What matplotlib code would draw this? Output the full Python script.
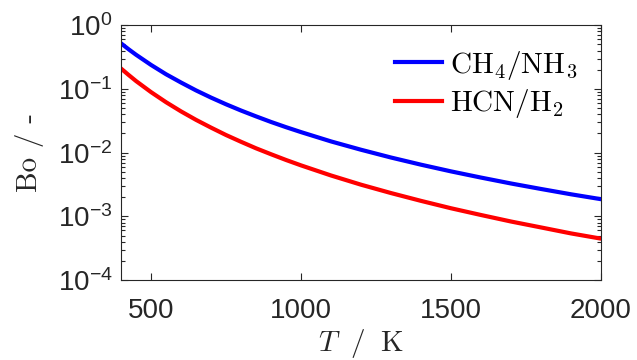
import numpy as np
import matplotlib
matplotlib.use("Agg")
import matplotlib.pyplot as plt
from matplotlib.ticker import LogLocator, FixedLocator, FixedFormatter, NullFormatter

plt.rcParams['mathtext.fontset'] = 'custom'
plt.rcParams['mathtext.rm'] = 'cmr10'
plt.rcParams['mathtext.it'] = 'cmmi10'
plt.rcParams['mathtext.sf'] = 'Liberation Sans'
plt.rcParams['mathtext.fallback'] = 'cm'
plt.rcParams['axes.unicode_minus'] = True

# temperature / K
T = [400, 425, 450, 500, 550, 600, 650, 700, 750, 800, 850, 900, 950,
     1000, 1100, 1200, 1300, 1400, 1500, 1600, 1700, 1800, 1900, 2000]
# Bond number, CH4/NH3
bo_ch4 = [0.519, 0.420, 0.344, 0.238, 0.170, 0.126, 0.0948, 0.0731, 0.0574,
          0.0458, 0.0371, 0.0303, 0.0251, 0.0210, 0.0150, 0.0111, 0.00838,
          0.00647, 0.00508, 0.00406, 0.00328, 0.00269, 0.00222, 0.00186]
# Bond number, HCN/H2
bo_hcn = [0.209, 0.166, 0.133, 0.0891, 0.0619, 0.0444, 0.0327, 0.0247, 0.0189,
          0.0148, 0.0117, 0.00944, 0.00767, 0.00631, 0.00438, 0.00314,
          0.00232, 0.00175, 0.00134, 0.00105, 0.00083, 0.00067, 0.00054,
          0.000447]

ytick_vals = [1e-4, 1e-3, 1e-2, 1e-1, 1e0]
ytick_lbls = [r'$\mathsf{10^{-4}}$', r'$\mathsf{10^{-3}}$', r'$\mathsf{10^{-2}}$',
              r'$\mathsf{10^{-1}}$', r'$\mathsf{10^{0}}$']
xtick_vals = [500, 1000, 1500, 2000]

fig = plt.figure(figsize=(6.37, 3.6), dpi=100)
ax = fig.add_axes([0.190, 0.222, 0.7535, 0.708])

ax.plot(T, bo_ch4, color='#0000ff', lw=3, label=r'$\mathrm{CH_4/NH_3}$')
ax.plot(T, bo_hcn, color='#ff0000', lw=3, label=r'$\mathrm{HCN/H_2}$')

ax.set_yscale('log')
ax.set_xlim(400, 2000)
ax.set_ylim(1e-4, 1e0)

ax.yaxis.set_major_locator(FixedLocator(ytick_vals))
ax.yaxis.set_major_formatter(FixedFormatter(ytick_lbls))
ax.yaxis.set_minor_locator(LogLocator(base=10, subs=np.arange(2, 10), numticks=20))
ax.yaxis.set_minor_formatter(NullFormatter())
ax.set_xticks(xtick_vals)
ax.set_xticklabels([str(v) for v in xtick_vals], fontfamily='Liberation Sans',
                   fontsize=22)

for s in ax.spines.values():
    s.set_color('#262626')
    s.set_linewidth(0.8)
ax.tick_params(which='both', direction='in', top=True, right=True,
               color='#262626', labelcolor='#262626', width=0.8)
ax.tick_params(which='major', length=5, labelsize=20)
ax.tick_params(axis='x', pad=13)
ax.tick_params(axis='y', pad=6)
ax.tick_params(which='minor', length=3)

ax.set_xlabel(r'$T\;\ /\;\ \mathrm{K}$', fontsize=21, color='#262626', labelpad=2)
ax.set_ylabel('Bo / -', fontfamily='cmr10', fontsize=21, color='#262626',
              labelpad=10)

ax.legend(loc='upper right', frameon=False, fontsize=21, handlelength=1.6,
          handletextpad=0.3, labelspacing=0.2, borderaxespad=0.4)

fig.savefig('out.png', dpi=100)
